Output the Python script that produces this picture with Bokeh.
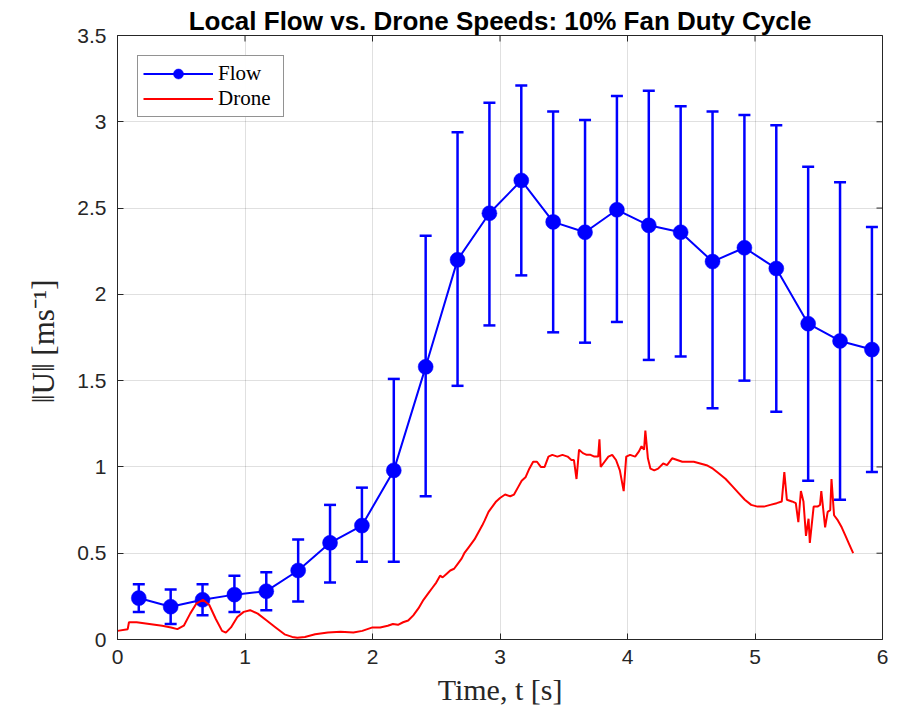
import math
from bokeh.plotting import figure
from bokeh.models import (ColumnDataSource, Whisker, TeeHead, Legend,
                          LegendItem, FixedTicker, Range1d, Title)
from bokeh.embed import file_html
from bokeh.resources import INLINE

# ---------------- data ----------------
flow_t = [0.167, 0.417, 0.667, 0.917, 1.167, 1.417, 1.667, 1.917, 2.167, 2.417, 2.667, 2.917,
          3.167, 3.417, 3.667, 3.917, 4.167, 4.417, 4.667, 4.917, 5.167, 5.417, 5.667, 5.917]
flow_mean = [0.24, 0.19, 0.23, 0.26, 0.28, 0.40, 0.56, 0.66, 0.98, 1.58, 2.20, 2.47,
             2.66, 2.42, 2.36, 2.49, 2.40, 2.36, 2.19, 2.27, 2.15, 1.83, 1.73, 1.68]
flow_low = [0.16, 0.09, 0.14, 0.16, 0.17, 0.22, 0.33, 0.45, 0.45, 0.83, 1.47, 1.82,
            2.11, 1.78, 1.72, 1.84, 1.62, 1.64, 1.34, 1.50, 1.32, 0.92, 0.81, 0.97]
flow_high = [0.32, 0.29, 0.32, 0.37, 0.39, 0.58, 0.78, 0.88, 1.51, 2.34, 2.94, 3.11,
             3.21, 3.06, 3.01, 3.15, 3.18, 3.09, 3.06, 3.04, 2.98, 2.74, 2.65, 2.39]

drone_t = [0.00, 0.08, 0.09, 0.15, 0.25, 0.35, 0.42, 0.47, 0.52, 0.57, 0.62, 0.67, 0.72, 0.77,
           0.82, 0.85, 0.89, 0.94, 0.99, 1.04, 1.10, 1.17, 1.24, 1.31, 1.37, 1.41, 1.47, 1.55,
           1.65, 1.75, 1.85, 1.92, 2.00, 2.06, 2.12, 2.16, 2.20, 2.24, 2.28, 2.32, 2.36, 2.40,
           2.44, 2.47, 2.50, 2.53, 2.55, 2.58, 2.61, 2.64, 2.67, 2.70, 2.72, 2.75, 2.78, 2.80,
           2.83, 2.86, 2.88, 2.91, 2.94, 2.97, 3.00, 3.04, 3.08, 3.11, 3.14, 3.17, 3.20, 3.23,
           3.26, 3.29, 3.32, 3.35, 3.38, 3.41, 3.45, 3.49, 3.53, 3.56, 3.58, 3.60, 3.62, 3.65,
           3.68, 3.71, 3.74, 3.77, 3.78, 3.79, 3.82, 3.85, 3.88, 3.91, 3.94, 3.97, 3.99, 4.02,
           4.06, 4.09, 4.11, 4.13, 4.14, 4.16, 4.18, 4.21, 4.24, 4.28, 4.31, 4.35, 4.39, 4.43,
           4.47, 4.52, 4.57, 4.62, 4.67, 4.72, 4.77, 4.82, 4.87, 4.92, 4.97, 5.02, 5.07, 5.12,
           5.17, 5.21, 5.23, 5.25, 5.29, 5.32, 5.34, 5.36, 5.38, 5.40, 5.42, 5.43, 5.46, 5.49,
           5.51, 5.52, 5.54, 5.55, 5.57, 5.59, 5.60, 5.62, 5.65, 5.68, 5.71, 5.74, 5.77]
drone_v = [0.05, 0.06, 0.10, 0.10, 0.09, 0.08, 0.07, 0.06, 0.08, 0.15, 0.21, 0.23, 0.20, 0.12,
           0.05, 0.04, 0.07, 0.13, 0.16, 0.17, 0.15, 0.11, 0.07, 0.03, 0.015, 0.01, 0.015, 0.03,
           0.04, 0.045, 0.04, 0.05, 0.07, 0.07, 0.08, 0.09, 0.085, 0.10, 0.11, 0.14, 0.18, 0.23,
           0.27, 0.30, 0.33, 0.37, 0.36, 0.38, 0.40, 0.41, 0.44, 0.47, 0.50, 0.53, 0.56, 0.58,
           0.62, 0.66, 0.69, 0.74, 0.77, 0.80, 0.82, 0.84, 0.83, 0.84, 0.88, 0.92, 0.94, 0.99,
           1.03, 1.03, 1.00, 1.00, 1.06, 1.07, 1.06, 1.07, 1.06, 1.04, 1.04, 0.93, 1.10, 1.08,
           1.07, 1.07, 1.06, 1.06, 1.16, 1.00, 1.03, 1.06, 1.07, 1.04, 0.98, 0.86, 1.06, 1.07,
           1.06, 1.09, 1.12, 1.10, 1.21, 1.05, 0.99, 0.98, 0.99, 1.02, 1.01, 1.05, 1.04, 1.03,
           1.03, 1.03, 1.02, 1.01, 0.99, 0.96, 0.93, 0.89, 0.85, 0.81, 0.78, 0.77, 0.77, 0.78,
           0.79, 0.80, 0.97, 0.81, 0.80, 0.79, 0.68, 0.86, 0.80, 0.60, 0.70, 0.56, 0.77, 0.77,
           0.78, 0.86, 0.72, 0.65, 0.74, 0.75, 0.93, 0.72, 0.69, 0.65, 0.60, 0.55, 0.50]

x_ticks = [0, 1, 2, 3, 4, 5, 6]
y_ticks = [0, 0.5, 1, 1.5, 2, 2.5, 3, 3.5]
y_tick_labels = ["0", "0.5", "1", "1.5", "2", "2.5", "3", "3.5"]
x_lim = (0, 6)
y_lim = (0, 3.5)

title_text = "Local Flow vs. Drone Speeds: 10% Fan Duty Cycle"
x_label = "Time, t [s]"
y_label = "\u2016U\u2016  [ms\u207b\u00b9]"

# ---------------- figure ----------------
BLUE = "#0000ff"
RED = "#ff0000"
AX = "#262626"

p = figure(width=892, height=711, output_backend="svg", toolbar_location=None,
           x_range=Range1d(*x_lim), y_range=Range1d(*y_lim),
           min_border_left=117, min_border_right=10, min_border_bottom=72, min_border_top=35)
p.title = Title(text=title_text, align="center", text_font="Liberation Sans",
                text_font_style="bold", text_font_size="26px", text_color="#000000",
                offset=0, standoff=0)

src = ColumnDataSource(dict(t=flow_t, m=flow_mean, lo=flow_low, hi=flow_high))
dsrc = ColumnDataSource(dict(t=drone_t, v=drone_v))

p.xgrid.ticker = FixedTicker(ticks=x_ticks)
p.ygrid.ticker = FixedTicker(ticks=y_ticks)
p.grid.grid_line_color = "#000000"
p.grid.grid_line_alpha = 0.12

w = Whisker(source=src, base="t", lower="lo", upper="hi", line_color=BLUE, line_width=2.5,
            upper_head=TeeHead(size=12, line_color=BLUE, line_width=2.5),
            lower_head=TeeHead(size=12, line_color=BLUE, line_width=2.5))
p.add_layout(w)

fl = p.line("t", "m", source=src, line_color=BLUE, line_width=2)
fc = p.scatter("t", "m", source=src, size=15, fill_color=BLUE, line_color=BLUE, line_width=0.5)
dl = p.line("t", "v", source=dsrc, line_color=RED, line_width=2)

# inward box ticks on the top and right edges (half of each dash is clipped by the frame)
p.scatter(x=x_ticks, y=[y_lim[1]] * len(x_ticks), marker="dash", angle=math.pi / 2,
          size=12, line_color=AX, line_width=1)
p.scatter(x=[x_lim[1]] * len(y_ticks), y=y_ticks, marker="dash",
          size=12, line_color=AX, line_width=1)

# axes styling
for ax in (p.xaxis[0], p.yaxis[0]):
    ax.axis_line_color = AX
    ax.major_tick_line_color = AX
    ax.major_tick_in = 6
    ax.major_tick_out = 0
    ax.minor_tick_line_color = None
    ax.major_label_text_font = "Liberation Sans"
    ax.major_label_text_font_size = "21px"
    ax.major_label_text_color = AX
    ax.axis_label_text_font = "Liberation Serif"
    ax.axis_label_text_font_style = "normal"
    ax.axis_label_text_font_size = "30px"
    ax.axis_label_text_color = AX

p.xaxis[0].ticker = FixedTicker(ticks=x_ticks)
p.yaxis[0].ticker = FixedTicker(ticks=y_ticks)
p.yaxis[0].major_label_overrides = {t: l for t, l in zip(y_ticks, y_tick_labels)}
p.xaxis[0].major_label_standoff = 10
p.yaxis[0].major_label_standoff = 11
p.xaxis[0].axis_label = x_label
p.yaxis[0].axis_label = y_label
p.yaxis[0].axis_label_text_font_size = "31px"
p.xaxis[0].axis_label_standoff = 6
p.yaxis[0].axis_label_standoff = 13

p.outline_line_color = AX
p.outline_line_width = 1
p.background_fill_color = "white"
p.border_fill_color = "white"

legend = Legend(items=[LegendItem(label="Flow", renderers=[fl, fc]),
                       LegendItem(label="Drone", renderers=[dl])],
                location="top_left", margin=20, padding=5, spacing=0,
                glyph_width=70, glyph_height=25, label_standoff=5, label_width=60,
                label_text_font="Liberation Serif", label_text_font_size="21px",
                label_text_color="#000000", border_line_color=AX, border_line_width=1,
                label_height=25)
p.add_layout(legend)

open("out.html", "w").write(file_html(p, INLINE))
